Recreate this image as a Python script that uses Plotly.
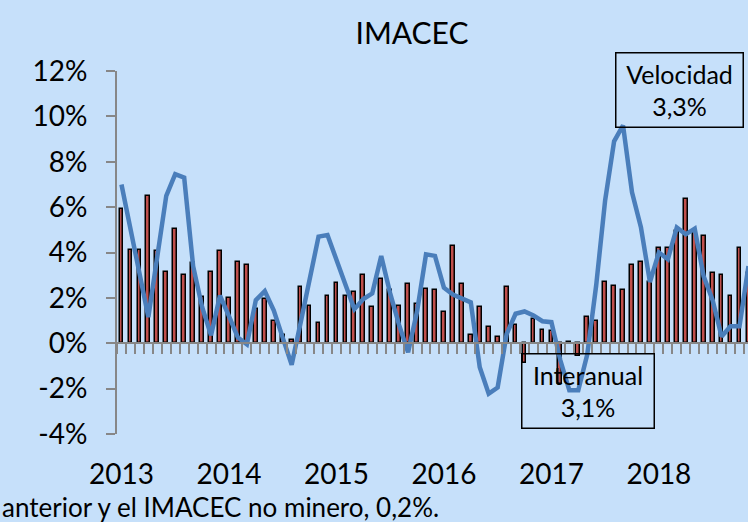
import plotly.graph_objects as go

# ---- data ----
months = [f"{2013 + i // 12}-{i % 12 + 1:02d}" for i in range(71)]  # Jan 2013 .. Nov 2018

interanual = [
    5.9, 4.1, 4.1, 6.5, 4.05, 3.15, 5.05, 3.0, 3.55, 2.05, 3.15, 4.07,
    2.0, 3.6, 3.45, 1.5, 1.95, 1.0, 0.35, 0.15, 2.5, 1.65, 0.9, 2.1,
    2.65, 2.1, 2.25, 3.0, 1.6, 2.85, 2.35, 1.63, 2.63, 1.71, 2.4, 2.33,
    1.37, 4.27, 2.63, 0.35, 1.58, 0.7, 0.28, 2.48, 0.8, -0.88, 1.05, 0.6,
    0.56, -1.8, 0.05, -0.55, 1.16, 0.99, 2.72, 2.54, 2.36, 3.47, 3.57, 2.7,
    4.19, 4.19, 4.95, 6.35, 4.9, 4.72, 3.09, 3.03, 2.07, 4.21, 3.1,
]

velocidad = [
    7.0, 5.15, 3.1, 1.15, 3.9, 6.5, 7.45, 7.3, 3.4, 1.6, 0.35, 2.1,
    1.2, 0.25, -0.05, 1.9, 2.3, 1.45, 0.25, -0.95, 0.9, 2.85, 4.7, 4.77,
    3.7, 2.6, 1.5, 1.95, 2.2, 3.85, 2.2, 0.8, -0.4, 1.4, 3.92, 3.85,
    2.45, 2.15, 1.95, 1.8, -1.06, -2.22, -1.95, 0.4, 1.3, 1.4, 1.22, 0.97,
    0.93, -0.75, -2.07, -2.07, -0.5, 2.55, 6.3, 8.9, 9.6, 6.65, 5.1, 2.7,
    4.0, 3.7, 5.1, 4.8, 5.05, 2.95, 1.9, 0.3, 0.75, 0.75, 3.4,
]

year_ticks = ["2013-01", "2014-01", "2015-01", "2016-01", "2017-01", "2018-01"]
year_labels = ["2013", "2014", "2015", "2016", "2017", "2018"]

y_ticks = [-4, -2, 0, 2, 4, 6, 8, 10, 12]
y_labels = ["-4%", "-2%", "0%", "2%", "4%", "6%", "8%", "10%", "12%"]

FONT = "Lato"
BG = "#C6E0FA"
GRAY = "#878787"

fig = go.Figure()

fig.add_trace(go.Bar(
    x=months, y=interanual, xaxis="x", yaxis="y",
    width=0.42,
    marker=dict(color="#C0504D", line=dict(color="black", width=1.5)),
    showlegend=False, hoverinfo="skip",
))

fig.add_trace(go.Scatter(
    x=months, y=velocidad, xaxis="x2", yaxis="y",
    mode="lines",
    line=dict(color="#4A7EBB", width=4.5),
    showlegend=False, hoverinfo="skip",
))

xr = [-0.5, 69.95]

fig.update_layout(
    template="none",
    width=748, height=522,
    margin=dict(l=117, r=0, t=71, b=88, autoexpand=False),
    paper_bgcolor=BG, plot_bgcolor=BG,
    font=dict(family=FONT, color="black"),
    title=dict(text="IMACEC", x=412 / 748, xanchor="center", xref="container",
               y=1 - 33 / 522, yanchor="middle", yref="container",
               font=dict(family=FONT, size=30, color="black")),
    xaxis=dict(
        type="category", categoryorder="array", categoryarray=months,
        range=xr, anchor="free", position=0.25, automargin=False,
        showline=True, linecolor=GRAY, linewidth=2,
        ticks="outside", tickson="boundaries", ticklen=10, tickwidth=2, tickcolor=GRAY,
        tickmode="linear", dtick=1,
        showticklabels=False, showgrid=False, zeroline=False,
    ),
    xaxis2=dict(
        type="category", categoryorder="array", categoryarray=months,
        range=xr, overlaying="x", anchor="y", side="bottom", automargin=False,
        showline=False, ticks="", showgrid=False, zeroline=False,
        tickmode="array", tickvals=year_ticks, ticktext=year_labels,
        tickfont=dict(family=FONT, size=28, color="black"),
        ticklabelstandoff=21,
    ),
    yaxis=dict(
        range=[-4, 12], tickmode="array", tickvals=y_ticks, ticktext=y_labels,
        automargin=False,
        showline=True, linecolor=GRAY, linewidth=2,
        ticks="outside", ticklen=9, tickwidth=2, tickcolor=GRAY,
        showgrid=False, zeroline=False,
        tickfont=dict(family=FONT, size=28, color="black"),
        ticklabelstandoff=13,
    ),
    bargap=0,
)

fig.add_annotation(
    text="Velocidad<br>3,3%", xref="paper", yref="paper",
    x=(679.5 - 117) / 631, y=(434 - 90) / 363, xanchor="center", yanchor="middle",
    showarrow=False, width=126, height=73, align="center", valign="middle",
    bordercolor="black", borderwidth=1.5, borderpad=0,
    font=dict(family=FONT, size=25, color="black"),
)

fig.add_annotation(
    text="Interanual<br>3,1%", xref="paper", yref="paper",
    x=(587.5 - 117) / 631, y=(434 - 391) / 363, xanchor="center", yanchor="middle",
    showarrow=False, width=131, height=73, align="center", valign="middle",
    bordercolor="black", borderwidth=1.5, borderpad=0,
    font=dict(family=FONT, size=25, color="black"),
)

fig.add_annotation(
    text="anterior y el IMACEC no minero, 0,2%.", xref="paper", yref="paper",
    x=-117 / 631, y=(434 - 506.5) / 363, xanchor="left", yanchor="middle",
    showarrow=False, font=dict(family=FONT, size=26, color="black"),
)

fig.write_html(
    "out.html",
    config={"displayModeBar": False},
    post_script="document.body.style.margin='0';document.body.style.overflow='hidden';",
)
